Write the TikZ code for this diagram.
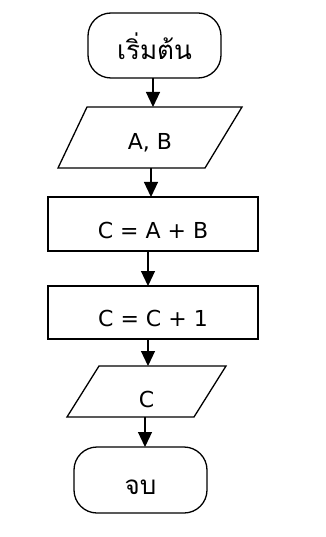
\documentclass[tikz,border=0pt]{standalone}
\usepackage{fontspec}
\setmainfont{DejaVu Sans}
\newfontfamily\thaifont[Script=Thai]{Loma}
\usetikzlibrary{arrows.meta}
\tikzset{
  base/.style={inner sep=0pt, outer sep=0pt, text height=28pt, text depth=0pt, font=\fontsize{22}{24}\selectfont},
  term/.style={base, draw, line width=1.3pt, rounded corners=23pt},
  proc/.style={base, draw, line width=1.3pt},
  io/.style={base},
  para/.style={line width=1.3pt, line join=miter},
  arr/.style={line width=1.2pt, -{Triangle[length=15pt,width=14pt]}},
  thai/.style={font=\thaifont\fontsize{26}{28}\selectfont}
}
\begin{document}
\begin{tikzpicture}[x=1pt,y=-1pt]
\useasboundingbox (0,0) rectangle (325,537);
\node[term, thai, minimum width=133pt, minimum height=65pt] (s) at (154.5,45.5) {เริ่มต้น};
\node[io, minimum width=184pt, minimum height=61pt, text height=25pt] (p1) at (150,137.5) {A, B};
\draw[para] ([xshift=29pt]p1.north west) -- (p1.north east) -- ([xshift=-37pt]p1.south east) -- (p1.south west) -- cycle;
\node[proc, minimum width=210pt, minimum height=54pt] (r1) at (153,224) {C = A + B};
\node[proc, minimum width=210pt, minimum height=53pt] (r2) at (153,312.5) {C = C + 1};
\node[io, minimum width=159pt, minimum height=51pt, text height=31pt] (p2) at (146.5,391.5) {C};
\draw[para] ([xshift=32pt]p2.north west) -- (p2.north east) -- ([xshift=-32pt]p2.south east) -- (p2.south west) -- cycle;
\node[term, thai, minimum width=133pt, minimum height=66pt] (e) at (140.5,480) {จบ};
\draw[arr] ([xshift=-1.5pt]s.south) -- ([xshift=-1.5pt]s.south |- p1.north);
\draw[arr] ([xshift=1pt]p1.south) -- ([xshift=1pt]p1.south |- r1.north);
\draw[arr] ([xshift=-5pt]r1.south) -- ([xshift=-5pt]r1.south |- r2.north);
\draw[arr] ([xshift=-5pt]r2.south) -- ([xshift=-5pt]r2.south |- p2.north);
\draw[arr] ([xshift=-1.5pt]p2.south) -- ([xshift=-1.5pt]p2.south |- e.north);
\end{tikzpicture}
\end{document}
